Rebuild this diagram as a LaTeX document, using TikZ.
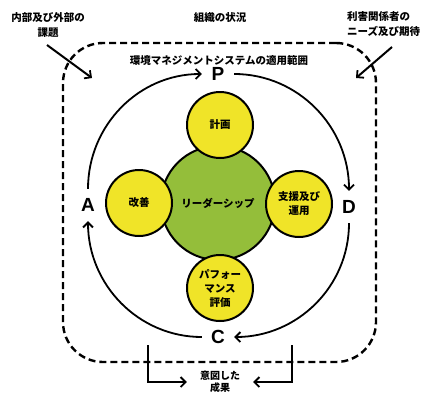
\documentclass[tikz,border=0pt]{standalone}
\usepackage{fontspec}
\newfontfamily\jp{Noto Sans CJK JP}
\newfontfamily\lat{Liberation Sans}
\usetikzlibrary{arrows.meta}
\definecolor{ylw}{RGB}{240,228,40}
\definecolor{grn}{RGB}{148,190,58}
\begin{document}
\begin{tikzpicture}[x=1pt,y=1pt,
  every node/.style={font=\jp\bfseries\fontsize{10.5}{14}\selectfont, align=center, inner sep=1pt},
  ball/.style={circle, draw, line width=2pt, fill=ylw, minimum size=66pt, inner sep=0pt},
  hub/.style={circle, draw, line width=2pt, fill=grn, minimum size=114pt, inner sep=0pt},
  letter/.style={circle, font=\lat\bfseries\fontsize{19}{19}\selectfont, minimum size=32pt, inner sep=0pt},
  tip/.style={-{Straight Barb[length=5pt,width=10pt,line width=1.8pt]}},
  cyc/.style={line width=1.8pt, tip},
  lab/.style={font=\jp\bfseries\fontsize{10.5}{15}\selectfont},
  scopebox/.style={draw, line width=2.4pt, dash pattern=on 7pt off 4pt, rounded corners=40pt, minimum width=313pt, minimum height=319pt, inner sep=0pt}
]
\useasboundingbox[fill=white] (0,0) rectangle (425,-394);

% dashed scope
\node[scopebox] (scope) at (219.5,-202.5) {};

% texts at top
\node[lab] (ctx) at (220,-18) {組織の状況};
\node[lab] (ext) at (48,-25) {内部及び外部の\\課題};
\node[lab, align=left, anchor=north west] (need) at (346,-10) {利害関係者の\\ニーズ及び期待};
\node[lab] (ems) at (219,-60) {環境マネジメントシステムの適用範囲};

% input arrows
\coordinate (l0) at (47,-45);
\coordinate (l1) at (92,-78);
\coordinate (r0) at (392,-47);
\coordinate (r1) at (356,-78);
\draw[line width=2pt, tip] (l0) -- (l1);
\draw[line width=2pt, tip] (r0) -- (r1);

% circles
\node[hub] (lead) at (218,-203) {リーダーシップ};
\node[ball] (plan) at (220,-125) {計画};
\node[ball] (imp) at (139,-203) {改善};
\node[ball] (sup) at (299,-204) {支援及び\\運用};
\node[ball] (perf) at (220,-288) {パフォー\\マンス\\評価};

% PDCA letters
\node[letter] (P) at (218,-74) {P};
\node[letter] (D) at (349,-207) {D};
\node[letter] (C) at (218,-337) {C};
\node[letter] (A) at (88,-205) {A};

\draw[cyc] (P.east) to[out=0,in=90] (D.north);
\draw[cyc] (D.south) to[out=-90,in=0] (C.east);
\draw[cyc] (C.west) to[out=180,in=-90] (A.south);
\draw[cyc] (A.north) to[out=90,in=180] (P.west);

% outcome
\node[minimum width=66pt, font=\jp\bfseries\fontsize{10}{11.5}\selectfont] (result) at (220,-382) {意図した\\成果};
\coordinate (bl) at (148,-345);
\coordinate (br) at (292,-345);
\draw[line width=2pt, tip] (bl) |- (result.west);
\draw[line width=2pt, tip] (br) |- (result.east);
\end{tikzpicture}
\end{document}
